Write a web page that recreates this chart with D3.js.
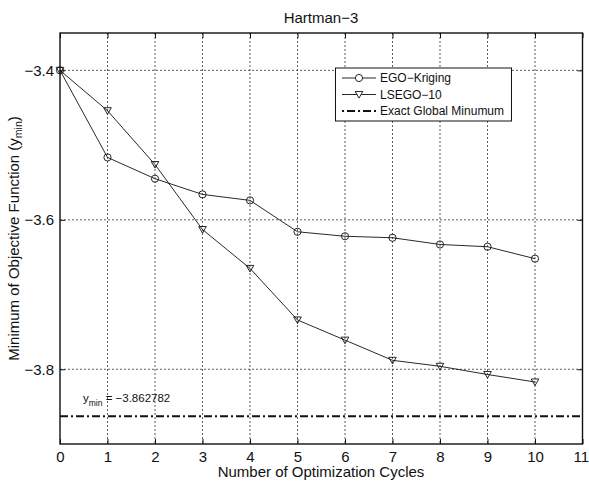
<!DOCTYPE html>
<html>
<head>
<meta charset="utf-8">
<script src="https://cdn.jsdelivr.net/npm/d3@7"></script>
<style>
  html, body { margin: 0; padding: 0; background: #fff; }
  svg { display: block; font-family: "Liberation Sans", Arial, sans-serif; }
</style>
</head>
<body>
<svg id="chart" width="589" height="482"></svg>
<script>
// Optimization cycles and best objective value found after each cycle
const cycles = [0, 1, 2, 3, 4, 5, 6, 7, 8, 9, 10];
const egoKriging = [-3.4, -3.5165, -3.545, -3.566, -3.574, -3.616, -3.622, -3.624, -3.633, -3.636, -3.652];
const lsego10 = [-3.4, -3.454, -3.526, -3.613, -3.665, -3.734, -3.761, -3.788, -3.796, -3.807, -3.817];
const globalMin = -3.862782;
const xTicks = [0, 1, 2, 3, 4, 5, 6, 7, 8, 9, 10, 11];
const yTicks = [-3.4, -3.6, -3.8];
const seriesNames = ["EGO\u2212Kriging", "LSEGO\u221210", "Exact Global Minumum"];

const svg = d3.select("#chart");
const plot = { left: 60, right: 582.5, top: 33, bottom: 444 };

const x = d3.scaleLinear().domain([0, 11]).range([plot.left, plot.right]);
const y = d3.scaleLinear().domain([-3.9, -3.35]).range([plot.bottom, plot.top]);

const ink = "#111";
const fontMain = 15;

// dotted grid
const grid = svg.append("g").attr("stroke", "#333").attr("stroke-width", 0.8)
  .attr("stroke-dasharray", "2,2");
grid.selectAll("line.vx").data(xTicks.slice(1, -1)).join("line")
  .attr("x1", d => x(d)).attr("x2", d => x(d))
  .attr("y1", plot.top).attr("y2", plot.bottom);
grid.selectAll("line.hy").data(yTicks).join("line")
  .attr("x1", plot.left).attr("x2", plot.right)
  .attr("y1", d => y(d)).attr("y2", d => y(d));

// axes with inward ticks on all four sides
const fmtY = d3.format(".1f");
const axisB = svg.append("g").attr("transform", `translate(0,${plot.bottom})`)
  .call(d3.axisBottom(x).tickValues(xTicks).tickSizeInner(-5).tickSizeOuter(0).tickPadding(7).tickFormat(d3.format("d")));
const axisT = svg.append("g").attr("transform", `translate(0,${plot.top})`)
  .call(d3.axisTop(x).tickValues(xTicks).tickSizeInner(-5).tickSizeOuter(0).tickFormat(""));
const axisL = svg.append("g").attr("transform", `translate(${plot.left},0)`)
  .call(d3.axisLeft(y).tickValues(yTicks).tickSizeInner(-5).tickSizeOuter(0).tickPadding(6).tickFormat(fmtY));
const axisR = svg.append("g").attr("transform", `translate(${plot.right},0)`)
  .call(d3.axisRight(y).tickValues(yTicks).tickSizeInner(-5).tickSizeOuter(0).tickFormat(""));
[axisB, axisT, axisL, axisR].forEach(a => {
  a.select(".domain").remove();
  a.selectAll(".tick line").attr("stroke", ink).attr("stroke-width", 1);
  a.selectAll(".tick text").attr("fill", ink).attr("font-size", fontMain)
    .attr("font-family", "'Liberation Sans', Arial, sans-serif");
});
axisB.selectAll(".tick text").attr("dy", "0.71em");
// keep the last x label inside the canvas
axisB.selectAll(".tick text").filter(d => d === 11)
  .attr("text-anchor", "end").attr("x", 6);

// frame
svg.append("rect")
  .attr("x", plot.left).attr("y", plot.top)
  .attr("width", plot.right - plot.left).attr("height", plot.bottom - plot.top)
  .attr("fill", "none").attr("stroke", ink).attr("stroke-width", 1.4);

// exact global minimum line
svg.append("line")
  .attr("x1", plot.left).attr("x2", plot.right)
  .attr("y1", y(globalMin)).attr("y2", y(globalMin))
  .attr("stroke", ink).attr("stroke-width", 2)
  .attr("stroke-dasharray", "8,3,2,3");

// series
const line = d3.line().x((d, i) => x(cycles[i])).y(d => y(d));
function drawSeries(values, marker) {
  svg.append("path").datum(values)
    .attr("d", line).attr("fill", "none")
    .attr("stroke", ink).attr("stroke-width", 0.9);
  const g = svg.append("g");
  if (marker === "circle") {
    g.selectAll("circle").data(values).join("circle")
      .attr("cx", (d, i) => x(cycles[i])).attr("cy", d => y(d)).attr("r", 3.6)
      .attr("fill", "none").attr("stroke", ink).attr("stroke-width", 0.9);
  } else {
    g.selectAll("path").data(values).join("path")
      .attr("transform", (d, i) => `translate(${x(cycles[i])},${y(d)})`)
      .attr("d", "M-3.8,-3 L3.8,-3 L0,3.6 Z")
      .attr("fill", "none").attr("stroke", ink).attr("stroke-width", 0.9);
  }
}
drawSeries(egoKriging, "circle");
drawSeries(lsego10, "triangle");

// annotation of the global minimum value
const ann = svg.append("text").attr("x", 83).attr("y", 402)
  .attr("font-size", 11.5).attr("fill", ink);
ann.append("tspan").text("y");
ann.append("tspan").attr("font-size", 8.5).attr("dy", 4).text("min");
ann.append("tspan").attr("dy", -4).text(" = \u22123.862782");

// legend
const lg = svg.append("g");
lg.append("rect").attr("x", 335.5).attr("y", 68).attr("width", 176).attr("height", 53)
  .attr("fill", "#fff").attr("stroke", ink).attr("stroke-width", 1);
const rows = [78, 94.5, 111];
const lx1 = 342, lx2 = 376, lxm = 359;
lg.append("line").attr("x1", lx1).attr("x2", lx2).attr("y1", rows[0]).attr("y2", rows[0])
  .attr("stroke", ink).attr("stroke-width", 0.9);
lg.append("circle").attr("cx", lxm).attr("cy", rows[0]).attr("r", 3.6)
  .attr("fill", "#fff").attr("stroke", ink).attr("stroke-width", 0.9);
lg.append("line").attr("x1", lx1).attr("x2", lx2).attr("y1", rows[1]).attr("y2", rows[1])
  .attr("stroke", ink).attr("stroke-width", 0.9);
lg.append("path").attr("transform", `translate(${lxm},${rows[1]})`)
  .attr("d", "M-3.8,-3 L3.8,-3 L0,3.6 Z")
  .attr("fill", "#fff").attr("stroke", ink).attr("stroke-width", 0.9);
lg.append("line").attr("x1", lx1).attr("x2", lx2).attr("y1", rows[2]).attr("y2", rows[2])
  .attr("stroke", ink).attr("stroke-width", 2)
  .attr("stroke-dasharray", "2,3,8,3");
lg.selectAll("text").data(seriesNames).join("text")
  .attr("x", 380).attr("y", (d, i) => rows[i]).attr("dy", "0.36em")
  .attr("font-size", 12).attr("fill", ink).text(d => d);

// titles
svg.append("text").attr("x", 321).attr("y", 23).attr("text-anchor", "middle")
  .attr("font-size", fontMain).attr("fill", ink).text("Hartman\u22123");
svg.append("text").attr("x", 321).attr("y", 477).attr("text-anchor", "middle")
  .attr("font-size", fontMain).attr("fill", ink).text("Number of Optimization Cycles");
const yl = svg.append("text")
  .attr("transform", `translate(19,${(plot.top + plot.bottom) / 2}) rotate(-90)`)
  .attr("text-anchor", "middle").attr("font-size", fontMain).attr("fill", ink);
yl.append("tspan").text("Minimum of Objective Function (y");
yl.append("tspan").attr("font-size", 10.5).attr("dy", 3).text("min");
yl.append("tspan").attr("dy", -3).text(")");
</script>
</body>
</html>
